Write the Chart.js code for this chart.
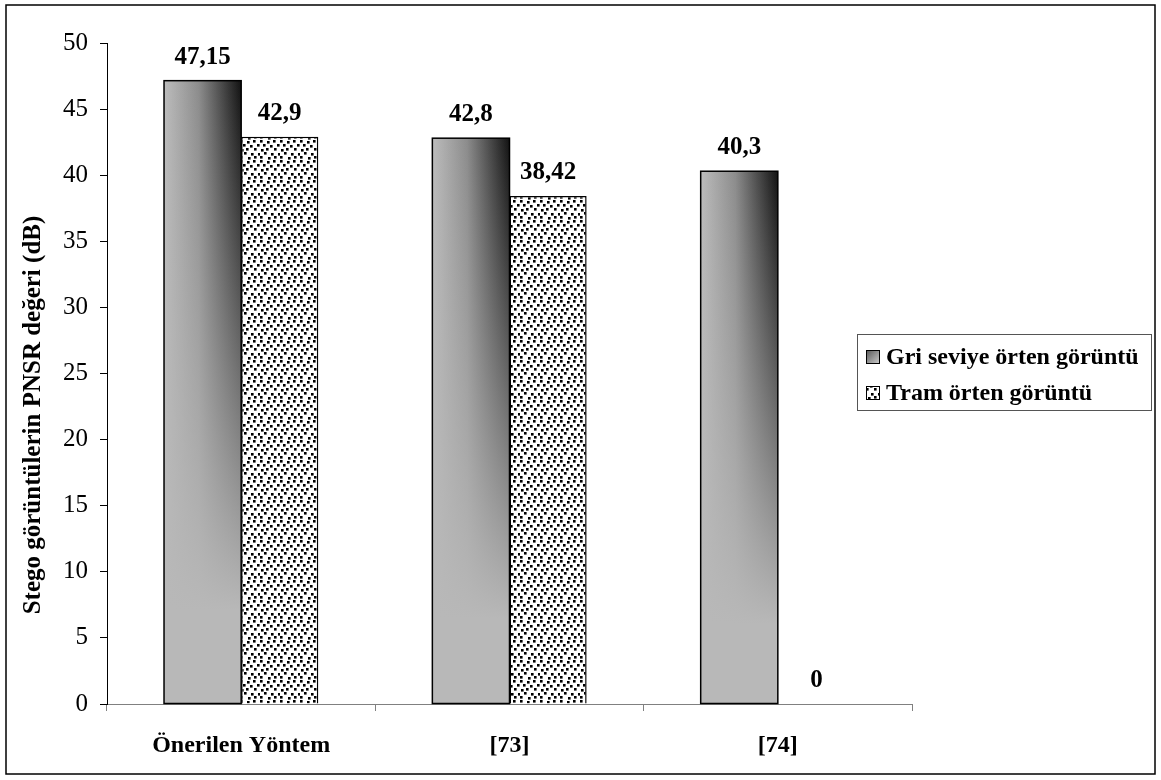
<!DOCTYPE html>
<html>
<head>
<meta charset="utf-8">
<script src="https://cdn.jsdelivr.net/npm/chart.js@4/dist/chart.umd.min.js"></script>
<style>
  html, body { margin: 0; padding: 0; background: #fff; }
  #chart { display: block; }
</style>
</head>
<body>
<canvas id="chart" width="1161" height="780"></canvas>
<script>
// Data
const categories = ['Önerilen Yöntem', '[73]', '[74]'];
const seriesNames = ['Gri seviye örten görüntü', 'Tram örten görüntü'];
const griValues = [47.15, 42.8, 40.3];
const tramValues = [42.9, 38.42, 0];
const yTitle = 'Stego görüntülerin PNSR değeri (dB)';

const FONT = "'Times New Roman', 'Liberation Serif', serif";

// Dotted pattern for the second series
function makeDotPattern() {
    const tile = document.createElement('canvas');
    tile.width = 20;
    tile.height = 20;
    const t = tile.getContext('2d');
    t.fillStyle = '#fff';
    t.fillRect(0, 0, 20, 20);
    t.fillStyle = '#000';
    const dots = [
        [0, 0], [7, 1], [13, 0],
        [3, 4], [10, 5], [17, 4],
        [1, 9], [6, 8], [14, 8],
        [4, 12], [11, 13], [18, 13],
        [0, 16], [8, 17], [14, 16]
    ];
    dots.forEach(([x, y]) => {
        t.fillRect(x, y, 2.6, 2.6);
    });
    return t.createPattern(tile, 'repeat');
}
const dotPattern = makeDotPattern();

function fmt(v) {
    return String(v).replace('.', ',');
}

// Shaded bars for the first series: horizontal light->dark, fading to flat grey downwards
const shadedBars = {
    id: 'shadedBars',
    afterDatasetDraw(chart, args) {
        if (args.index !== 0) return;
        const ctx = chart.ctx;
        args.meta.data.forEach((bar) => {
            const { x, y, base, width } = bar.getProps(['x', 'y', 'base', 'width'], true);
            const left = x - width / 2;
            const h = base - y;
            const hg = ctx.createLinearGradient(left, 0, left + width, 0);
            hg.addColorStop(0, '#bcbcbc');
            hg.addColorStop(0.45, '#8c8c8c');
            hg.addColorStop(1, '#121212');
            const vg = ctx.createLinearGradient(0, y, 0, base);
            vg.addColorStop(0, 'rgba(184,184,184,0)');
            vg.addColorStop(0.85, 'rgba(184,184,184,1)');
            vg.addColorStop(1, 'rgba(184,184,184,1)');
            ctx.save();
            ctx.fillStyle = hg;
            ctx.fillRect(left, y, width, h);
            ctx.fillStyle = vg;
            ctx.fillRect(left, y, width, h);
            ctx.strokeStyle = '#000';
            ctx.lineWidth = 1.5;
            ctx.strokeRect(left, y, width, h);
            ctx.restore();
        });
    }
};

// Value labels, y title, legend and outer frame
const decorations = {
    id: 'decorations',
    afterDraw(chart) {
        const ctx = chart.ctx;
        ctx.save();

        // value labels
        ctx.fillStyle = '#000';
        ctx.font = 'bold 25px ' + FONT;
        ctx.textAlign = 'center';
        ctx.textBaseline = 'alphabetic';
        chart.data.datasets.forEach((ds, i) => {
            chart.getDatasetMeta(i).data.forEach((bar, j) => {
                const { x, y } = bar.getProps(['x', 'y'], true);
                ctx.fillText(fmt(ds.data[j]), x, y - 17);
            });
        });

        // y axis title
        ctx.save();
        ctx.translate(34, 415);
        ctx.rotate(-Math.PI / 2);
        ctx.font = 'bold 25px ' + FONT;
        ctx.textAlign = 'center';
        ctx.textBaseline = 'middle';
        ctx.fillText(yTitle, 0, 0);
        ctx.restore();

        // legend
        ctx.strokeStyle = '#555';
        ctx.lineWidth = 1;
        ctx.strokeRect(857.5, 334.5, 294, 76);
        ctx.font = 'bold 24px ' + FONT;
        ctx.textAlign = 'left';
        ctx.textBaseline = 'middle';
        const rows = [357, 393];
        chart.data.datasets.forEach((ds, i) => {
            const cy = rows[i];
            if (i === 0) {
                const g = ctx.createLinearGradient(866, cy - 7, 880, cy + 7);
                g.addColorStop(0, '#555');
                g.addColorStop(1, '#d0d0d0');
                ctx.fillStyle = g;
            } else {
                ctx.fillStyle = dotPattern;
            }
            ctx.fillRect(866, cy - 7, 14, 14);
            ctx.strokeStyle = '#000';
            ctx.strokeRect(866.5, cy - 6.5, 13, 13);
            ctx.fillStyle = '#000';
            ctx.fillText(ds.label, 886, cy + 1);
        });

        // outer frame
        ctx.strokeStyle = '#000';
        ctx.lineWidth = 1.5;
        ctx.strokeRect(6, 5, 1149, 769);
        ctx.restore();
    }
};

const ctx = document.getElementById('chart').getContext('2d');
new Chart(ctx, {
    type: 'bar',
    data: {
        labels: categories,
        datasets: [{
            label: seriesNames[0],
            data: griValues,
            backgroundColor: '#b8b8b8',
            borderColor: '#000',
            borderWidth: 1.5,
            categoryPercentage: 0.575,
            barPercentage: 1,
        }, {
            label: seriesNames[1],
            data: tramValues,
            backgroundColor: dotPattern,
            borderColor: '#000',
            borderWidth: 1.5,
            categoryPercentage: 0.575,
            barPercentage: 1,
        }]
    },
    options: {
        responsive: false,
        animation: false,
        layout: { padding: { top: 43, right: 249, bottom: 0, left: 0 } },
        plugins: {
            legend: { display: false },
            tooltip: { enabled: false },
        },
        scales: {
            x: {
                grid: { display: true, drawOnChartArea: false, drawTicks: true, tickLength: 7, color: '#808080', offset: true },
                border: { display: true, color: '#808080', width: 1 },
                ticks: { color: '#000', font: { family: FONT, size: 24, weight: 'bold' }, padding: 20, maxRotation: 0 },
                afterFit(scale) { scale.height = 76; },
            },
            y: {
                min: 0,
                max: 50,
                grid: { display: true, drawOnChartArea: false, drawTicks: true, tickLength: 7, color: '#000' },
                border: { display: true, color: '#000', width: 1 },
                ticks: { stepSize: 5, color: '#000', font: { family: FONT, size: 25 }, padding: 12 },
                afterFit(scale) { scale.width = 107; },
            }
        }
    },
    plugins: [shadedBars, decorations]
});
</script>
</body>
</html>
